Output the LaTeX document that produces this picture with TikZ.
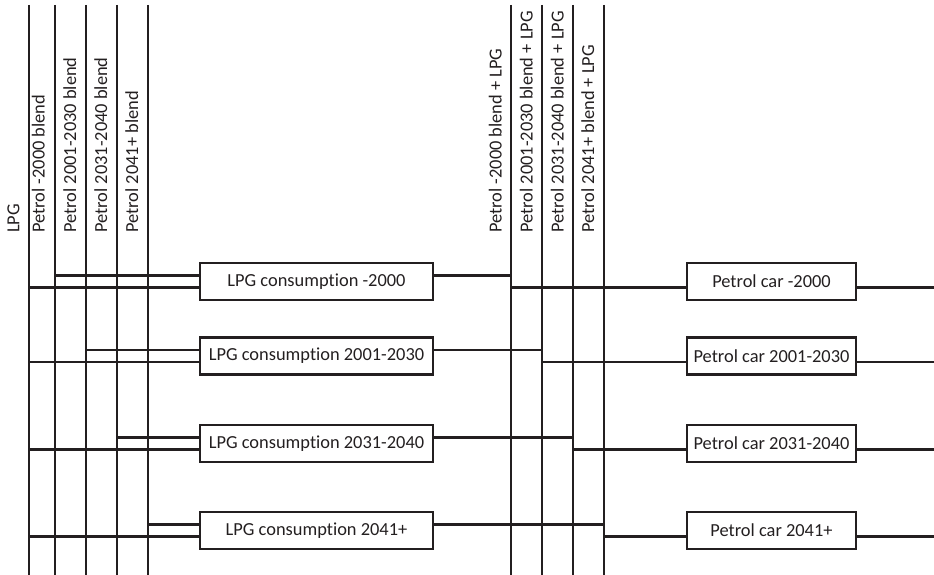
\documentclass[tikz,border=0pt]{standalone}
\usepackage{fontspec}
\setmainfont{Carlito}[Ligatures={NoCommon,NoContextual},Contextuals=NoAlternate]
\definecolor{ink}{HTML}{231F20}
\begin{document}
\begin{tikzpicture}[x=1pt,y=-1pt,
  wire/.style={draw=ink,line width=2.7pt},
  box/.style={draw=ink,line width=2.7pt,minimum height=37pt,inner sep=0pt,
    font=\fontsize{18.4}{20}\selectfont,text=ink},
  lbl/.style={rotate=90,anchor=base west,inner sep=0pt,
    font=\fontsize{18.4}{20}\selectfont,text=ink}]
\useasboundingbox (0,0) rectangle (934,575);

% vertical buses: LPG and petrol blends on the left, blend + LPG on the right
\foreach \n/\x in {v0/29, v1/55, v2/86, v3/117, v4/148, w1/511, w2/542, w3/573, w4/604} {
  \coordinate (\n top) at (\x,5);
  \coordinate (\n bot) at (\x,575);
  \draw[wire] (\n top) -- (\n bot);
}
\coordinate (rightedge) at (934,0);

% bus labels
\node[lbl] (lab0) at (19.5,233) {LPG};
\node[lbl] (lab1) at (44.5,233) {Petrol -2000 blend};
\node[lbl] (lab2) at (76,233) {Petrol 2001-2030 blend};
\node[lbl] (lab3) at (107,233) {Petrol 2031-2040 blend};
\node[lbl] (lab4) at (138,233) {Petrol 2041+ blend};
\node[lbl] (rab1) at (501.5,233) {Petrol -2000 blend + LPG};
\node[lbl] (rab2) at (532.5,233) {Petrol 2001-2030 blend + LPG};
\node[lbl] (rab3) at (563.5,233) {Petrol 2031-2040 blend + LPG};
\node[lbl] (rab4) at (594,233) {Petrol 2041+ blend + LPG};

% process boxes and their connections
\foreach \i/\y/\t in {1/281.5/-2000, 2/356/2001-2030, 3/443.5/2031-2040, 4/530.5/2041+} {
  \node[box,minimum width=233pt] (lpg\i) at (316.5,\y) {LPG consump\kern0pt tion \t};
  \node[box,minimum width=169pt] (car\i) at (771.5,\y) {Petrol car \t};
  \path (lpg\i.west) +(0,-6) coordinate (up\i) +(0,6) coordinate (dn\i);
  \draw[wire] (v0top |- dn\i) -- (dn\i);
  \draw[wire] (v\i top |- up\i) -- (up\i);
  \draw[wire] (lpg\i.east |- up\i) -- (w\i top |- up\i);
  \draw[wire] (w\i top |- dn\i) -- (car\i.west |- dn\i);
  \draw[wire] (car\i.east |- dn\i) -- (rightedge |- dn\i);
}
\end{tikzpicture}
\end{document}
